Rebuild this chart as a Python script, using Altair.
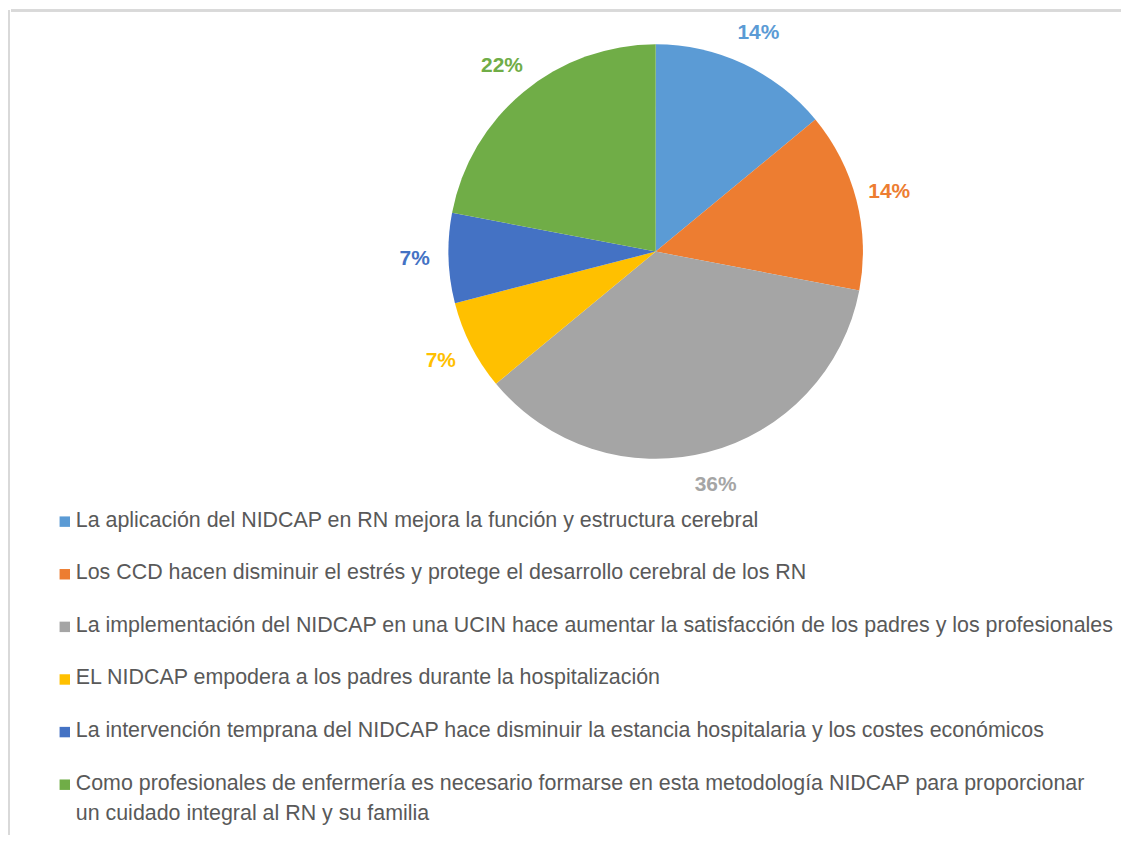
import altair as alt
import pandas as pd

categories = [
    "La aplicación del NIDCAP en RN mejora la función y estructura cerebral",
    "Los CCD hacen disminuir el estrés y protege el desarrollo cerebral de los RN",
    "La implementación del NIDCAP en una UCIN hace aumentar la satisfacción de los padres y los profesionales",
    "EL NIDCAP empodera a los padres durante la hospitalización",
    "La intervención temprana del NIDCAP hace disminuir la estancia hospitalaria y los costes económicos",
    "Como profesionales de enfermería es necesario formarse en esta metodología NIDCAP para proporcionar un cuidado integral al RN y su familia",
]
legend_lines = [
    ["La aplicación del NIDCAP en RN mejora la función y estructura cerebral"],
    ["Los CCD hacen disminuir el estrés y protege el desarrollo cerebral de los RN"],
    ["La implementación del NIDCAP en una UCIN hace aumentar la satisfacción de los padres y los profesionales"],
    ["EL NIDCAP empodera a los padres durante la hospitalización"],
    ["La intervención temprana del NIDCAP hace disminuir la estancia hospitalaria y los costes económicos"],
    ["Como profesionales de enfermería es necesario formarse en esta metodología NIDCAP para proporcionar",
     "un cuidado integral al RN y su familia"],
]
values = [14, 14, 36, 7, 7, 22]
labels = ["14%", "14%", "36%", "7%", "7%", "22%"]
colors = ["#5B9BD5", "#ED7D31", "#A5A5A5", "#FFC000", "#4472C4", "#70AD47"]

df = pd.DataFrame({
    "idx": list(range(len(categories))),
    "cat": categories,
    "value": values,
    "label": labels,
    "legend": legend_lines,
})

W, H = 1114, 827
CX, CY = 647, 242

color = alt.Color("cat:N", scale=alt.Scale(domain=categories, range=colors), legend=None)

base = alt.Chart(df).encode(
    theta=alt.Theta("value:Q", stack=True),
    order=alt.Order("idx:Q"),
    color=color,
)

pie = base.mark_arc(outerRadius=208).encode(x=alt.value(CX), y=alt.value(CY))
pct = base.mark_text(radius=242, font="Liberation Sans", fontSize=21, fontWeight="bold").encode(
    x=alt.value(CX), y=alt.value(CY), text="label:N"
)

yscale = alt.Scale(type="point", domain=list(range(len(categories))), range=[513, 777], padding=0)
leg = alt.Chart(df)
squares = leg.mark_square(size=110, opacity=1).encode(
    x=alt.value(54), y=alt.Y("idx:O", scale=yscale, axis=None), color=color
)
texts = leg.mark_text(
    align="left", baseline="top", dy=-12, font="Liberation Sans", fontSize=21.5,
    color="#595959", lineHeight=30,
).encode(x=alt.value(65), y=alt.Y("idx:O", scale=yscale, axis=None), text="legend")

border_top = alt.Chart(df).mark_rule(color="#d9d9d9", strokeWidth=2).encode(
    x=alt.value(0), x2=alt.value(W), y=alt.value(0)
)
border_left = alt.Chart(df).mark_rule(color="#d9d9d9", strokeWidth=2).encode(
    x=alt.value(-2), y=alt.value(0), y2=alt.value(H)
)

chart = alt.layer(border_top, border_left, pie, pct, squares, texts).properties(
    width=W, height=H, padding=0
).configure_view(stroke=None)

chart.save("out.html", embed_options={"renderer": "svg", "actions": False})
